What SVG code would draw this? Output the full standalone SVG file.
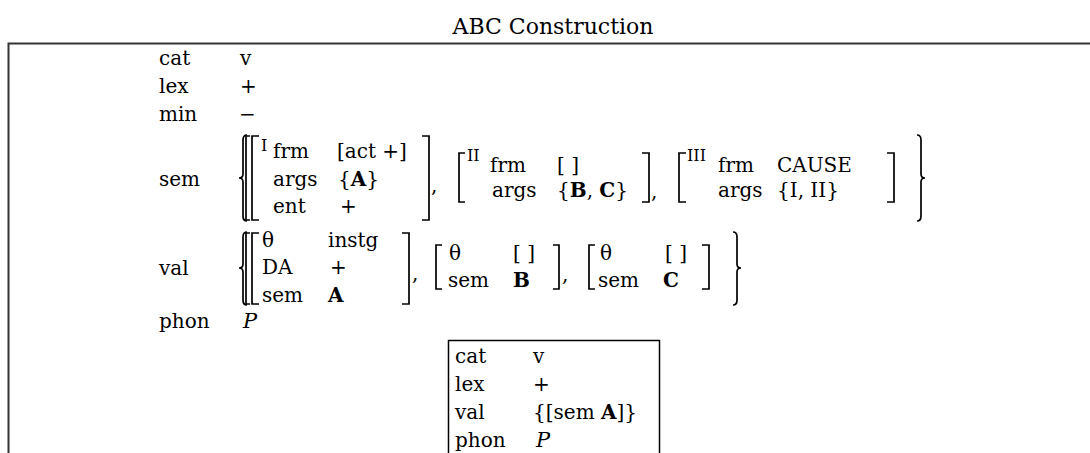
<svg xmlns="http://www.w3.org/2000/svg" width="1090" height="453" viewBox="0 0 1090 453">
  <style>
    text { font-family: "DejaVu Serif", "Liberation Serif", serif; font-size: 20px; fill: #000; }
    .title { font-size: 22px; text-anchor: middle; }
    .sup { font-size: 16px; }
    .b { font-weight: bold; }
    .it { font-style: italic; font-size: 21px; }
    .frame { fill: none; stroke: #333; stroke-width: 2; }
    .box { fill: #fff; stroke: #000; stroke-width: 1.5; }
    .br { fill: none; stroke: #000; stroke-width: 1.7; stroke-linejoin: miter; }
  </style>

  <rect width="1090" height="453" fill="#fff"/>

  <g id="title">
    <text class="title" x="553" y="34">ABC Construction</text>
  </g>

  <!-- outer frame: open to the right and bottom -->
  <g id="frame">
    <rect class="frame" x="8.5" y="43.5" width="1200" height="600"/>
  </g>

  <g id="construction">
    <!-- simple features -->
    <text x="159" y="65">cat</text><text x="240" y="65">v</text>
    <text x="159" y="93">lex</text><text x="240" y="93">+</text>
    <text x="159" y="121">min</text><text x="239" y="121">−</text>

    <!-- sem: set of three frames -->
    <g id="sem">
      <text x="159" y="186">sem</text>
      <path class="br" d="M247,135 Q243,135 243,140 L243,174 Q243,178 239,178 Q243,178 243,182 L243,216 Q243,221 247,221"/>
      <path class="br" d="M250,136 L246,136 L246,220 L250,220"/>
      <path class="br" d="M259,136 L252,136 L252,220 L259,220"/>
      <text class="sup" x="261" y="151">I</text>
      <text x="273" y="158">frm</text><text x="337" y="158">[act +]</text>
      <text x="273" y="186">args</text><text x="338" y="186">{<tspan class="b">A</tspan>}</text>
      <text x="273" y="213">ent</text><text x="340" y="213">+</text>
      <path class="br" d="M422,136 L429,136 L429,220 L422,220"/>
      <text x="431" y="192">,</text>

      <path class="br" d="M465,153 L459,153 L459,202 L465,202"/>
      <text class="sup" x="467" y="161">II</text>
      <text x="490" y="172">frm</text><text x="557" y="172">[ ]</text>
      <text x="492" y="197">args</text><text x="557" y="197">{<tspan class="b">B</tspan>, <tspan class="b">C</tspan>}</text>
      <path class="br" d="M642,153 L649,153 L649,202 L642,202"/>
      <text x="651" y="198">,</text>

      <path class="br" d="M686,153 L679,153 L679,202 L686,202"/>
      <text class="sup" x="687" y="161">III</text>
      <text x="718" y="172">frm</text><text x="777" y="172">CAUSE</text>
      <text x="718" y="197">args</text><text x="777" y="197">{I, II}</text>
      <path class="br" d="M887,153 L894,153 L894,202 L887,202"/>

      <path class="br" d="M917,135 Q921,135 921,140 L921,174 Q921,178 925,178 Q921,178 921,182 L921,216 Q921,221 917,221"/>
    </g>

    <!-- val: set of three argument descriptions -->
    <g id="val">
      <text x="159" y="275">val</text>
      <path class="br" d="M247,232 Q243,232 243,237 L243,264 Q243,268 239,268 Q243,268 243,272 L243,300 Q243,305 247,305"/>
      <path class="br" d="M250,233 L246,233 L246,304 L250,304"/>
      <path class="br" d="M259,233 L252,233 L252,304 L259,304"/>
      <text x="262" y="247">θ</text><text x="328" y="247">instg</text>
      <text x="262" y="274">DA</text><text x="330" y="274">+</text>
      <text x="262" y="302">sem</text><text class="b" x="328" y="302">A</text>
      <path class="br" d="M402,233 L409,233 L409,304 L402,304"/>
      <text x="412" y="280">,</text>

      <path class="br" d="M442,245 L436,245 L436,289 L442,289"/>
      <text x="449" y="260">θ</text><text x="513" y="260">[ ]</text>
      <text x="448" y="287">sem</text><text class="b" x="513" y="287">B</text>
      <path class="br" d="M553,245 L559,245 L559,289 L553,289"/>
      <text x="562" y="281">,</text>

      <path class="br" d="M595,245 L589,245 L589,289 L595,289"/>
      <text x="600" y="260">θ</text><text x="665" y="260">[ ]</text>
      <text x="598" y="287">sem</text><text class="b" x="663" y="287">C</text>
      <path class="br" d="M702,245 L709,245 L709,289 L702,289"/>

      <path class="br" d="M733,232 Q737,232 737,237 L737,264 Q737,268 741,268 Q737,268 737,272 L737,300 Q737,305 733,305"/>
    </g>

    <text x="159" y="328">phon</text><text class="it" x="243" y="328">P</text>
  </g>

  <!-- embedded daughter description, open at the bottom -->
  <g id="daughter">
    <rect class="box" x="448.5" y="340.5" width="211" height="200"/>
    <text x="455" y="363">cat</text><text x="533" y="363">v</text>
    <text x="455" y="391">lex</text><text x="533" y="391">+</text>
    <text x="455" y="419">val</text><text x="533" y="419">{[sem <tspan class="b">A</tspan>]}</text>
    <text x="455" y="447">phon</text><text class="it" x="536" y="447">P</text>
  </g>
</svg>
